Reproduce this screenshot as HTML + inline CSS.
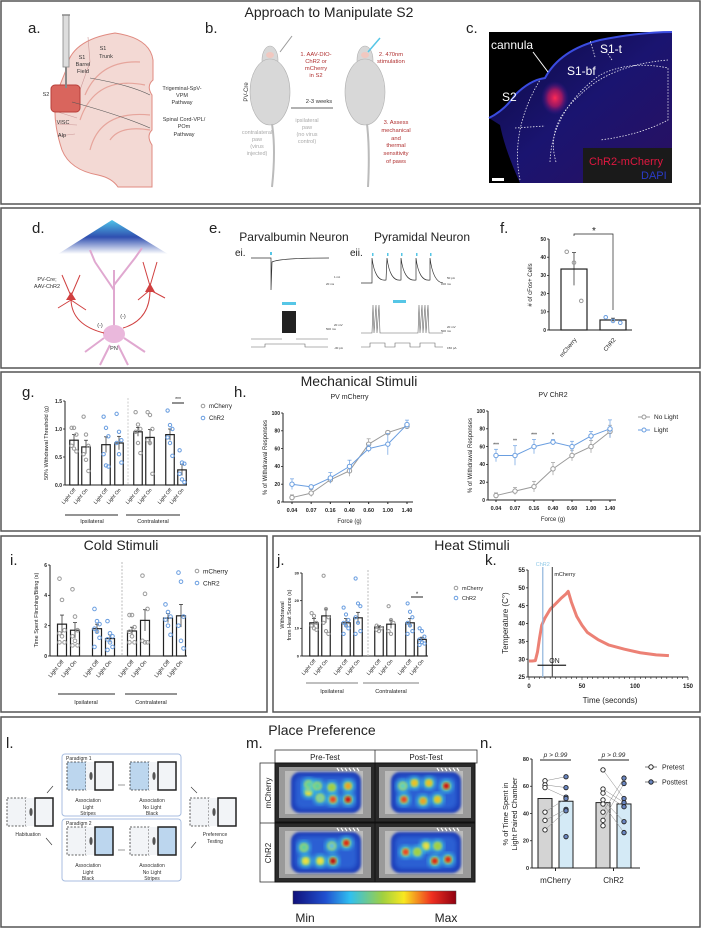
<!DOCTYPE html>
<html><head><meta charset="utf-8"><style>
html,body{margin:0;padding:0;background:#fff;}
svg{display:block;font-family:"Liberation Sans",sans-serif;}
</style></head><body>
<svg id="fig" width="701" height="928" viewBox="0 0 701 928" xmlns="http://www.w3.org/2000/svg">
<defs>
<radialGradient id="redglow" cx="50%" cy="50%" r="50%"><stop offset="0" stop-color="#ff2a55"/><stop offset="0.5" stop-color="#d01a60" stop-opacity="0.7"/><stop offset="1" stop-color="#3a1a9a" stop-opacity="0"/></radialGradient>
<linearGradient id="cone" x1="0" y1="0" x2="0" y2="1"><stop offset="0" stop-color="#4fc3e8"/><stop offset="0.5" stop-color="#2f4fb0"/><stop offset="1" stop-color="#ffffff"/></linearGradient>
<linearGradient id="cbar" x1="0" x2="1"><stop offset="0" stop-color="#10107a"/><stop offset="0.2" stop-color="#2050d0"/><stop offset="0.35" stop-color="#30c0f0"/><stop offset="0.55" stop-color="#a0d040"/><stop offset="0.68" stop-color="#f8e820"/><stop offset="0.85" stop-color="#f03020"/><stop offset="1" stop-color="#900010"/></linearGradient>
<linearGradient id="cbg" x1="0" y1="0" x2="1" y2="1"><stop offset="0" stop-color="#0c0a40"/><stop offset="0.5" stop-color="#1a1470"/><stop offset="1" stop-color="#2a1060"/></linearGradient>
<filter id="blur2"><feGaussianBlur stdDeviation="2"/></filter>
<filter id="blur1"><feGaussianBlur stdDeviation="1.2"/></filter>
</defs>
<rect width="701" height="928" fill="#fff"/>

<g fill="none" stroke="#555" stroke-width="1.5">
<rect x="1" y="1" width="699" height="203"/>
<rect x="1" y="208" width="699" height="160"/>
<rect x="1" y="372" width="699" height="159"/>
<rect x="1" y="536" width="266" height="176"/>
<rect x="273" y="536" width="427" height="176"/>
<rect x="1" y="717" width="699" height="210"/>
</g>

<g font-size="14" fill="#222" text-anchor="middle">
<text x="329" y="17">Approach to Manipulate S2</text>
<text x="359" y="386">Mechanical Stimuli</text>
<text x="121" y="550">Cold Stimuli</text>
<text x="472" y="550">Heat Stimuli</text>
<text x="322" y="735">Place Preference</text>
</g>
<g font-size="15" fill="#222">
<text x="28" y="33">a.</text>
<text x="205" y="33">b.</text>
<text x="466" y="33">c.</text>
<text x="32" y="233">d.</text>
<text x="209" y="233">e.</text>
<text x="500" y="233">f.</text>
<text x="22" y="397">g.</text>
<text x="234" y="397">h.</text>
<text x="10" y="565">i.</text>
<text x="277" y="565">j.</text>
<text x="485" y="565">k.</text>
<text x="6" y="748">l.</text>
<text x="246" y="748">m.</text>
<text x="480" y="748">n.</text>
</g>

<g>
<path d="M66,70 Q70,40 115,33 Q150,38 153,60 L153,80 Q146,86 152,95 L152,130 Q146,136 152,145 L152,187 L118,187 Q112,178 98,175 Q70,170 62,150 Q52,120 56,95 Z" fill="#f3d9d4" stroke="#e08a80" stroke-width="1"/>
<path d="M85,95 Q100,60 140,62 M80,120 Q95,75 145,85 M90,150 Q100,110 150,115 M110,140 Q120,125 150,130" fill="none" stroke="#e6a59c" stroke-width="1.2"/>
<path d="M58,112 L77,118 M56,124 L77,125 M58,136 L75,134 M88,37 L90,62 L80,90" fill="none" stroke="#c99" stroke-width="0.6"/>
<rect x="51" y="85" width="29" height="27" rx="4" fill="#d9655d" stroke="#b8403a"/>
<line x1="66" y1="15" x2="66" y2="88" stroke="#888" stroke-width="2"/>
<rect x="63" y="15" width="6" height="52" fill="#ddd" stroke="#888" stroke-width="0.8"/>
<line x1="62" y1="15" x2="70" y2="15" stroke="#888" stroke-width="1.5"/>
<path d="M90,78 Q130,85 150,95" fill="none" stroke="#555" stroke-width="0.6"/>
<path d="M72,102 Q120,115 150,128" fill="none" stroke="#555" stroke-width="0.6"/>
<g font-size="5.5" fill="#333" text-anchor="middle">
<text x="103" y="50">S1</text><text x="106" y="58">Trunk</text>
<text x="82" y="59">S1</text><text x="83" y="66">Barrel</text><text x="83" y="73">Field</text>
<text x="46" y="96">S2</text><text x="63" y="124">VISC</text><text x="62" y="137">AIp</text>
<text x="182" y="90">Trigeminal-SpV-</text><text x="182" y="97">VPM</text><text x="182" y="104">Pathway</text>
<text x="184" y="121">Spinal Cord-VPL/</text><text x="184" y="128">POm</text><text x="184" y="136">Pathway</text>
</g></g>

<g>
<g fill="#d8d8d8" stroke="#b0b0b0" stroke-width="0.6">
<ellipse cx="270" cy="60" rx="8" ry="14"/><ellipse cx="270" cy="92" rx="20" ry="33"/>
<ellipse cx="365" cy="60" rx="8" ry="14"/><ellipse cx="365" cy="92" rx="20" ry="33"/>
</g>
<path d="M272,124 Q276,150 272,187 M367,124 Q370,150 368,187" fill="none" stroke="#bbb" stroke-width="2"/>
<ellipse cx="270" cy="55" rx="4" ry="3" fill="#f1c8c0"/><ellipse cx="365" cy="55" rx="4" ry="3" fill="#f1c8c0"/>
<line x1="280" y1="52" x2="292" y2="36" stroke="#999" stroke-width="1"/>
<line x1="368" y1="52" x2="380" y2="38" stroke="#56c6e6" stroke-width="1.5"/>
<line x1="291" y1="108" x2="333" y2="108" stroke="#333" stroke-width="0.7"/>
<g font-size="5.8" fill="#b03030" text-anchor="middle">
<text x="316" y="56">1.  AAV-DIO-</text><text x="316" y="63">ChR2 or</text><text x="316" y="70">mCherry</text><text x="316" y="77">in S2</text>
<text x="391" y="56">2. 470nm</text><text x="391" y="63">stimulation</text>
<text x="396" y="124">3. Assess</text><text x="396" y="132">mechanical</text><text x="396" y="140">and</text><text x="396" y="147">thermal</text><text x="396" y="155">sensitivity</text><text x="396" y="163">of paws</text>
</g>
<g font-size="5.5" fill="#aaa" text-anchor="middle">
<text x="257" y="134">contralateral</text><text x="257" y="141">paw</text><text x="257" y="148">(virus</text><text x="257" y="155">injected)</text>
<text x="307" y="122">ipsilateral</text><text x="307" y="129">paw</text><text x="307" y="136">(no virus</text><text x="307" y="143">control)</text>
</g>
<text x="319" y="103" font-size="5.8" fill="#333" text-anchor="middle">2-3 weeks</text>
<text x="248" y="92" font-size="6" fill="#333" transform="rotate(-90 248 92)" text-anchor="middle">PV-Cre</text>
</g>

<g>
<rect x="489" y="32" width="183" height="151" fill="#000"/>
<path d="M489,118 Q505,110 515,95 Q530,80 545,78 Q560,50 600,40 Q640,32 672,32 L672,183 L520,183 Q505,150 500,125 Z" fill="url(#cbg)"/>
<path d="M489,118 Q505,110 515,95 Q530,80 545,78 Q560,50 600,40 Q640,32 672,32" fill="none" stroke="#3a4ce0" stroke-width="2"/>
<ellipse cx="555" cy="98" rx="14" ry="17" fill="url(#redglow)"/>
<g fill="none" stroke="#fff" stroke-width="0.8" stroke-dasharray="1.5,1.5" opacity="0.9">
<path d="M520,180 Q510,130 540,80"/><path d="M556,162 Q545,125 580,95 Q610,65 668,60"/>
<path d="M550,162 Q552,110 600,75 Q630,60 668,68 L668,120 Q640,135 600,140"/>
<path d="M595,57 L590,40"/><path d="M612,60 L604,48"/><path d="M515,128 L545,126"/>
</g>
<rect x="583" y="148" width="89" height="35" fill="#1a1a1a"/>
<rect x="492" y="178" width="12" height="3" fill="#fff"/>
<line x1="533" y1="52" x2="548" y2="72" stroke="#fff" stroke-width="1"/>
<g fill="#fff" font-size="12">
<text x="491" y="49">cannula</text><text x="600" y="53">S1-t</text><text x="567" y="75">S1-bf</text><text x="502" y="101">S2</text>
</g>
<text x="589" y="165" font-size="11" fill="#e01840">ChR2-mCherry</text>
<text x="641" y="179" font-size="11" fill="#2a3cc8">DAPI</text>
</g>

<g>
<polygon points="112,220 58,254 168,254" fill="url(#cone)"/>
<g fill="none" stroke="#e0a8d0" stroke-width="2">
<path d="M114,330 L114,270 M114,290 L95,262 M114,285 L135,258 M95,262 L90,250 M135,258 L142,248"/>
<path d="M104,338 L85,352 M124,338 L145,352 M110,345 L100,365 M118,345 L128,365"/>
</g>
<ellipse cx="114" cy="334" rx="11" ry="9" fill="#eab8dc"/>
<g fill="none" stroke="#d04040" stroke-width="1">
<path d="M71,300 Q72,325 104,333 M71,296 L62,275 M71,296 L80,275 M71,300 L58,308 M71,300 L86,310"/>
<path d="M150,290 Q150,320 123,328 M150,286 L143,262 M150,286 L157,262 M150,290 L165,298 M150,290 L138,300"/>
</g>
<polygon points="71,292 76,300 66,300" fill="#d04040"/><polygon points="150,283 155,292 145,292" fill="#d04040"/>
<g font-size="5.5" fill="#333" text-anchor="middle">
<text x="47" y="281">PV-Cre;</text><text x="47" y="288">AAV-ChR2</text>
<text x="100" y="327">(-)</text><text x="123" y="318">(-)</text><text x="114" y="350">PN</text>
</g></g>

<g>
<text x="294" y="241" font-size="12" fill="#222" text-anchor="middle">Parvalbumin Neuron</text>
<text x="422" y="241" font-size="12" fill="#222" text-anchor="middle">Pyramidal Neuron</text>
<text x="235" y="256" font-size="10" fill="#222">ei.</text>
<text x="350" y="256" font-size="10" fill="#222">eii.</text>
<rect x="270" y="252" width="2" height="3" fill="#56c6e6"/>
<path d="M251,258 L271,258 L271,290 L272,262 Q280,258 329,258" fill="none" stroke="#333" stroke-width="0.7"/>
<path d="M361,283 L372,283 L372,258 Q375,282 386,280 L387,258 Q390,282 401,280 L401,258 Q404,282 416,280 L416,258 Q419,282 430,280 L430,258 Q433,282 443,283" fill="none" stroke="#333" stroke-width="0.7"/>
<g fill="#56c6e6"><rect x="372" y="253" width="1.5" height="3"/><rect x="387" y="253" width="1.5" height="3"/><rect x="401" y="253" width="1.5" height="3"/><rect x="416" y="253" width="1.5" height="3"/><rect x="430" y="253" width="1.5" height="3"/>
<rect x="282" y="302" width="14" height="3"/><rect x="393" y="300" width="13" height="3"/></g>
<rect x="282" y="311" width="14" height="22" fill="#222"/>
<path d="M251,339 L282,339 M296,339 L328,339 M251,347 L265,347 L265,344 L305,344 L305,347 L328,347" fill="none" stroke="#666" stroke-width="0.6"/>
<path d="M361,333 L372,333 L373,305 L374,333 L376,305 L377,333 L379,305 L380,333 L382,333 L418,333 L419,305 L420,333 L422,305 L423,333 L425,305 L426,333 L428,305 L429,333 L443,333 M361,347 L370,347 L370,343 L385,343 L385,347 L395,347 L395,343 L410,343 L410,347 L420,347 L420,343 L435,343 L435,347 L443,347" fill="none" stroke="#666" stroke-width="0.6"/>
<g font-size="3" fill="#333"><text x="334" y="278">1 nA</text><text x="326" y="285">20 ms</text><text x="447" y="279">50 pA</text><text x="441" y="285">100 ms</text>
<text x="334" y="326">20 mV</text><text x="326" y="330">500 ms</text><text x="334" y="349">-30 pA</text><text x="447" y="328">20 mV</text><text x="441" y="332">500 ms</text><text x="447" y="349">150 pA</text></g>
</g>

<g id="chart-f"></g>
<g id="chart-g"></g>
<g id="chart-h1"></g>
<g id="chart-h2"></g>
<g id="chart-i"></g>
<g id="chart-j"></g>
<g id="chart-k"></g>
<g id="chart-n"></g>

<g font-size="5" fill="#333">
<rect x="62" y="754" width="119" height="62" rx="3" fill="none" stroke="#a8bde0"/>
<rect x="62" y="819" width="119" height="62" rx="3" fill="none" stroke="#a8bde0"/>
<text x="66" y="760">Paradigm 1</text><text x="66" y="825">Paradigm 2</text>
<g id="chambers"></g>
<g text-anchor="middle">
<text x="88" y="802">Association</text><text x="88" y="809">Light</text><text x="88" y="815">Stripes</text>
<text x="152" y="802">Association</text><text x="152" y="809">No Light</text><text x="152" y="815">Black</text>
<text x="88" y="867">Association</text><text x="88" y="874">Light</text><text x="88" y="880">Black</text>
<text x="152" y="867">Association</text><text x="152" y="874">No Light</text><text x="152" y="880">Stripes</text>
<text x="28" y="836">Habituation</text><text x="215" y="836">Preference</text><text x="215" y="843">Testing</text>
</g>
<path d="M47,793 L53,786 M52,845 L46,838 M191,787 L197,793 M191,848 L196,842 M118,785 L125,785 M118,850 L125,850" stroke="#333" stroke-width="0.6"/>
</g>

<g>
<rect x="275" y="750" width="202" height="13" fill="#fff" stroke="#333" stroke-width="0.8"/>
<line x1="375" y1="750" x2="375" y2="763" stroke="#333" stroke-width="0.8"/>
<text x="325" y="760" font-size="8" text-anchor="middle" fill="#222">Pre-Test</text>
<text x="426" y="760" font-size="8" text-anchor="middle" fill="#222">Post-Test</text>
<rect x="260" y="763" width="15" height="119" fill="#fff" stroke="#333" stroke-width="0.8"/>
<line x1="260" y1="823" x2="275" y2="823" stroke="#333" stroke-width="0.8"/>
<text x="271" y="793" font-size="8" text-anchor="middle" fill="#222" transform="rotate(-90 271 793)">mCherry</text>
<text x="271" y="853" font-size="8" text-anchor="middle" fill="#222" transform="rotate(-90 271 853)">ChR2</text>
<g id="heatcells"></g>
<rect x="293" y="891" width="163" height="13" fill="url(#cbar)" stroke="#444" stroke-width="0.5"/>
<text x="305" y="922" font-size="12" text-anchor="middle" fill="#222">Min</text>
<text x="446" y="922" font-size="12" text-anchor="middle" fill="#222">Max</text>
</g>
</svg>
<script>
const fCats = ["mCherry", "ChR2"];
const fMeans = [33.5, 5.5];
const fErr = [9, 1];
const fDots = [[43, 37, 16], [7, 5, 4]];

const gMeans = [0.8, 0.68, 0.72, 0.75, 0.95, 0.85, 0.9, 0.27];
const gErr = [0.1, 0.12, 0.14, 0.12, 0.08, 0.14, 0.1, 0.1];
const gDots = [[1.02,1.02,0.9,0.7,0.65,0.6],[1.22,0.9,0.7,0.55,0.45,0.25],[1.22,1.02,0.87,0.55,0.35,0.33],[1.27,0.95,0.8,0.75,0.55,0.4],[1.3,1.08,1.0,0.95,0.75,0.57],[1.3,1.25,1.0,0.8,0.75,0.2],[1.33,1.07,1.0,0.85,0.75,0.52],[0.62,0.4,0.38,0.2,0.1,0.05]];
const gTicks = [0, 0.5, 1.0, 1.5];

const forceLabels = ["0.04","0.07","0.16","0.40","0.60","1.00","1.40"];
const h1NoLight = [5, 10, 25, 35, 65, 78, 85];
const h1NoLightErr = [3, 4, 3, 6, 6, 2, 2];
const h1Light = [20, 17, 27, 40, 60, 65, 87];
const h1LightErr = [6, 2, 6, 7, 4, 12, 5];
const h2NoLight = [5, 10, 15, 35, 50, 60, 77];
const h2NoLightErr = [3, 4, 6, 7, 6, 7, 7];
const h2Light = [50, 50, 60, 65, 60, 72, 80];
const h2LightErr = [7, 11, 8, 3, 6, 5, 10];
const h2Stars = ["***", "**", "***", "*", "", "", ""];
const pctTicks = [0, 20, 40, 60, 80, 100];

const iMeans = [2.1, 1.7, 1.8, 1.15, 1.65, 2.35, 2.5, 2.65];
const iErr = [0.6, 0.5, 0.3, 0.25, 0.25, 0.7, 0.3, 0.75];
const iDots = [[5.1,3.7,1.7,1.5,1.3,0.9,0.9],[4.4,2.6,1.7,1.3,1.0,0.7,0.7],[3.1,2.3,2.1,1.8,1.6,1.2,0.6],[2.3,1.5,1.3,1.1,0.9,0.6,0.4],[2.7,2.7,1.9,1.6,1.3,0.9,0.9],[5.3,4.1,3.1,1.0,0.9,0.9],[3.4,2.9,2.6,2.4,2.0,1.4],[5.5,4.9,2.6,2.0,1.0,0.5]];
const iTicks = [0, 2, 4, 6];

const jMeans = [12, 14.5, 12, 13.8, 10.5, 11.5, 12, 6];
const jErr = [1.5, 2.5, 1.5, 2, 0.5, 1.5, 1.5, 0.8];
const jDots = [[15.5,14.5,12,11,10,9.5],[29,17,14,12,9,8],[17.5,15,13,12,11,10,8],[28,19,18,14,12,9,8],[11,10.5,10,9.5,9],[18,13,12,9,8],[19,16,14,12,11,9,8],[10,9,7,6,5,4.5,4]];
const jTicks = [0, 10, 20, 30];

const kTime = [0, 3, 6, 8, 10, 12, 15, 20, 25, 30, 35, 37, 40, 45, 50, 55, 65, 75, 90, 105, 120, 132];
const kTemp = [29.5, 29.5, 29.6, 32, 36, 39.5, 41.5, 44, 45.5, 47, 48.3, 49, 46, 42, 39.5, 37.5, 35.5, 34, 32.8, 31.8, 31.2, 31];
const kTicksY = [25, 30, 35, 40, 45, 50, 55];
const kTicksX = [0, 50, 100, 150];
const kChR2Time = 13;
const kMcherryTime = 22;
const kOnStart = 8;
const kOnEnd = 35;

const nGroups = ["mCherry", "ChR2"];
const nPreMeans = [51, 48];
const nPostMeans = [49, 47];
const nPre = [[64, 61, 59, 41, 35, 28], [72, 58, 55, 50, 47, 41, 35, 31]];
const nPost = [[67, 59, 52, 51, 43, 42, 23], [66, 62, 51, 48, 45, 34, 26]];
const nTicks = [0, 20, 40, 60, 80];

const NS = "http://www.w3.org/2000/svg";
function el(parent, tag, attrs, txt) {
  const e = document.createElementNS(NS, tag);
  for (const k in attrs) e.setAttribute(k, attrs[k]);
  if (txt !== undefined) e.textContent = txt;
  parent.appendChild(e);
  return e;
}
function lin(d0, d1, r0, r1) { return v => r0 + (v - d0) * (r1 - r0) / (d1 - d0); }
const GREY = "#9a9a9a", BLUE = "#6a9ee0";

function yAxis(g, x, y, ticks, fmt, fs) {
  const a = el(g, "line", {x1: x, x2: x, y1: y(ticks[ticks.length-1]), y2: y(ticks[0]), stroke: "#222", "stroke-width": 1});
  
  
  ticks.forEach(t => {
    el(g, "line", {x1: x - 2, x2: x, y1: y(t), y2: y(t), stroke: "#222", "stroke-width": 0.8});
    const tx = el(g, "text", {x: x - 3, y: y(t) + fs * 0.35, "font-size": fs, "text-anchor": "end", "font-weight": "bold", fill: "#222"}, fmt(t));
    
    
  });
}
function rotLabel(g, x, y, txt, fs, ang) {
  const t = el(g, "text", {x: x, y: y, "font-size": fs, "text-anchor": "end", fill: "#222", transform: `rotate(${ang} ${x} ${y})`}, txt);
  
  
}
function barChart(g, xs, w, means, errs, dots, y, colors, dotR) {
  means.forEach((m, i) => {
    const b = el(g, "rect", {x: xs[i] - w/2, y: y(m), width: w, height: y(0) - y(m), fill: "#fff", stroke: "#222", "stroke-width": 1.2});
    
    
    el(g, "line", {x1: xs[i], x2: xs[i], y1: y(m + errs[i]), y2: y(m - errs[i]), stroke: "#222", "stroke-width": 0.7});
    el(g, "line", {x1: xs[i]-2, x2: xs[i]+2, y1: y(m + errs[i]), y2: y(m + errs[i]), stroke: "#222", "stroke-width": 0.7});
    dots[i].forEach((d, k) => {
      const c = el(g, "circle", {cx: xs[i] + ((k % 3) - 1) * (w * 0.28), cy: y(d), r: dotR, fill: "none", stroke: colors[i], "stroke-width": 1});
      
      
    });
  });
}
function legend(g, x, y, items, fs, gap) {
  items.forEach((it, i) => {
    el(g, "circle", {cx: x, cy: y + i * gap, r: 1.8, fill: "none", stroke: it[1], "stroke-width": 1});
    const t = el(g, "text", {x: x + 6, y: y + i * gap + fs * 0.35, "font-size": fs, fill: "#222"}, it[0]);
    
    
  });
}

(function(){
  const g = document.getElementById("chart-f");
  const y = lin(0, 50, 330, 239);
  yAxis(g, 549, y, [0,10,20,30,40,50], v => v, 5);
  el(g, "line", {x1: 549, x2: 632, y1: 330, y2: 330, stroke: "#222"});
  const xs = [574, 613];
  barChart(g, xs, 26, fMeans, fErr, fDots, y, [GREY, BLUE], 1.8);
  fCats.forEach((c, i) => rotLabel(g, xs[i] + 3, 340, c, 6, -50));
  el(g, "path", {d: "M574,236 L574,234 L613,234 L613,310", fill: "none", stroke: "#222", "stroke-width": 0.7});
  el(g, "text", {x: 594, y: 234, "font-size": 10, "text-anchor": "middle", fill: "#222"}, "*");
  el(g, "text", {x: 532, y: 285, "font-size": 6, "text-anchor": "middle", fill: "#222", transform: "rotate(-90 532 285)"}, "# of cFos+ Cells");
})();

(function(){
  const g = document.getElementById("chart-g");
  const y = lin(0, 1.5, 485, 401);
  yAxis(g, 65, y, gTicks, v => v.toFixed(1), 5);
  el(g, "line", {x1: 65, x2: 187, y1: 485, y2: 485, stroke: "#222"});
  const xs = [74, 86, 106, 119, 138, 150, 170, 182];
  const cols = [GREY, GREY, BLUE, BLUE, GREY, GREY, BLUE, BLUE];
  barChart(g, xs, 8.5, gMeans, gErr, gDots, y, cols, 1.7);
  el(g, "line", {x1: 128, x2: 128, y1: 398, y2: 485, stroke: "#ccc", "stroke-dasharray": "2,1.5"});
  xs.forEach((x, i) => rotLabel(g, x + 2, 490, i % 2 ? "Light On" : "Light Off", 5, -50));
  el(g, "line", {x1: 65, x2: 118, y1: 515, y2: 515, stroke: "#555", "stroke-width": 1.2});
  el(g, "line", {x1: 126, x2: 180, y1: 515, y2: 515, stroke: "#555", "stroke-width": 1.2});
  el(g, "text", {x: 92, y: 523, "font-size": 5.5, "text-anchor": "middle", fill: "#222"}, "Ipsilateral");
  el(g, "text", {x: 153, y: 523, "font-size": 5.5, "text-anchor": "middle", fill: "#222"}, "Contralateral");
  el(g, "line", {x1: 172, x2: 184, y1: 403, y2: 403, stroke: "#222"});
  el(g, "text", {x: 178, y: 401, "font-size": 5, "text-anchor": "middle", fill: "#222"}, "***");
  el(g, "text", {x: 48, y: 443, "font-size": 5.5, "text-anchor": "middle", fill: "#222", transform: "rotate(-90 48 443)"}, "50% Withdrawal Threshold (g)");
  legend(g, 203, 406, [["mCherry", GREY], ["ChR2", BLUE]], 6, 12);
})();

function lineChart(id, ax, y0, y100, x0, x1, grey, greyE, blue, blueE, title, tY, stars) {
  const g = document.getElementById(id);
  const y = lin(0, 100, y0, y100);
  const x = lin(0, forceLabels.length - 1, x0, x1);
  yAxis(g, ax, y, pctTicks, v => v, 5);
  el(g, "line", {x1: ax, x2: x1 + 6, y1: y0, y2: y0, stroke: "#222"});
  forceLabels.forEach((f, i) => {
    el(g, "line", {x1: x(i), x2: x(i), y1: y0, y2: y0 + 2, stroke: "#222"});
    const t = el(g, "text", {x: x(i), y: y0 + 10, "font-size": 5.5, "font-weight": "bold", "text-anchor": "middle", fill: "#222"}, f);
    
    
  });
  [[grey, greyE, GREY], [blue, blueE, BLUE]].forEach(s => {
    const p = el(g, "polyline", {points: s[0].map((v, i) => x(i) + "," + y(v)).join(" "), fill: "none", stroke: s[2], "stroke-width": 1});
    
    
    s[0].forEach((v, i) => {
      el(g, "line", {x1: x(i), x2: x(i), y1: y(v + s[1][i]), y2: y(v - s[1][i]), stroke: s[2], "stroke-width": 0.7});
      el(g, "line", {x1: x(i)-2, x2: x(i)+2, y1: y(v + s[1][i]), y2: y(v + s[1][i]), stroke: s[2], "stroke-width": 0.7});
      const c = el(g, "circle", {cx: x(i), cy: y(v), r: 2.2, fill: "#fff", stroke: s[2], "stroke-width": 1});
      
      
    });
  });
  if (stars) stars.forEach((s, i) => { if (s) el(g, "text", {x: x(i), y: y(blue[i] + blueE[i]) - 3, "font-size": 5, "text-anchor": "middle", fill: "#222"}, s); });
  el(g, "text", {x: (x0 + x1) / 2, y: tY, "font-size": 7, "text-anchor": "middle", fill: "#222"}, title);
  el(g, "text", {x: (x0 + x1) / 2, y: y0 + 21, "font-size": 6, "text-anchor": "middle", fill: "#222"}, "Force (g)");
  el(g, "text", {x: ax - 16, y: (y0 + y100) / 2, "font-size": 6, "text-anchor": "middle", fill: "#222", transform: `rotate(-90 ${ax - 16} ${(y0 + y100) / 2})`}, "% of Withdrawal Responses");
}
lineChart("chart-h1", 283, 502, 413, 292, 407, h1NoLight, h1NoLightErr, h1Light, h1LightErr, "PV mCherry", 399, null);
lineChart("chart-h2", 488, 500, 411, 496, 610, h2NoLight, h2NoLightErr, h2Light, h2LightErr, "PV ChR2", 397, h2Stars);
(function(){
  const g = document.getElementById("chart-h2");
  [["No Light", GREY, 417], ["Light", BLUE, 430]].forEach(l => {
    el(g, "line", {x1: 638, x2: 650, y1: l[2], y2: l[2], stroke: l[1]});
    el(g, "circle", {cx: 644, cy: l[2], r: 2, fill: "#fff", stroke: l[1]});
    const t = el(g, "text", {x: 654, y: l[2] + 2.2, "font-size": 6.5, fill: "#222"}, l[0]);
    
    
  });
})();

(function(){
  const g = document.getElementById("chart-i");
  const y = lin(0, 6, 656, 565);
  yAxis(g, 50, y, iTicks, v => v, 5);
  el(g, "line", {x1: 50, x2: 187, y1: 656, y2: 656, stroke: "#222"});
  const xs = [62, 75, 97, 110, 132, 145, 168, 181];
  const cols = [GREY, GREY, BLUE, BLUE, GREY, GREY, BLUE, BLUE];
  barChart(g, xs, 9, iMeans, iErr, iDots, y, cols, 1.8);
  el(g, "line", {x1: 122, x2: 122, y1: 562, y2: 656, stroke: "#bbb", "stroke-dasharray": "2,1.5"});
  xs.forEach((x, i) => rotLabel(g, x + 2, 662, i % 2 ? "Light On" : "Light Off", 5.5, -50));
  el(g, "line", {x1: 58, x2: 115, y1: 694, y2: 694, stroke: "#555", "stroke-width": 1.3});
  el(g, "line", {x1: 125, x2: 177, y1: 694, y2: 694, stroke: "#555", "stroke-width": 1.3});
  el(g, "text", {x: 86, y: 704, "font-size": 5.5, "text-anchor": "middle", fill: "#222"}, "Ipsilateral");
  el(g, "text", {x: 151, y: 704, "font-size": 5.5, "text-anchor": "middle", fill: "#222"}, "Contralateral");
  el(g, "text", {x: 38, y: 610, "font-size": 5.5, "text-anchor": "middle", fill: "#222", transform: "rotate(-90 38 610)"}, "Time Spent Flinching/Biting (s)");
  legend(g, 197, 571, [["mCherry", GREY], ["ChR2", BLUE]], 6.5, 12);
})();

(function(){
  const g = document.getElementById("chart-j");
  const y = lin(0, 30, 656, 573);
  yAxis(g, 302, y, jTicks, v => v, 4);
  el(g, "line", {x1: 302, x2: 428, y1: 656, y2: 656, stroke: "#222"});
  const xs = [314, 326, 346, 358, 379, 391, 410, 422];
  const cols = [GREY, GREY, BLUE, BLUE, GREY, GREY, BLUE, BLUE];
  barChart(g, xs, 8.5, jMeans, jErr, jDots, y, cols, 1.6);
  el(g, "line", {x1: 368, x2: 368, y1: 570, y2: 656, stroke: "#bbb", "stroke-dasharray": "2,1.5"});
  xs.forEach((x, i) => rotLabel(g, x + 2, 661, i % 2 ? "Light On" : "Light Off", 5, -50));
  el(g, "line", {x1: 306, x2: 358, y1: 683, y2: 683, stroke: "#555", "stroke-width": 0.8});
  el(g, "line", {x1: 363, x2: 419, y1: 683, y2: 683, stroke: "#555", "stroke-width": 0.8});
  el(g, "text", {x: 332, y: 693, "font-size": 5.5, "text-anchor": "middle", fill: "#222"}, "Ipsilateral");
  el(g, "text", {x: 391, y: 693, "font-size": 5.5, "text-anchor": "middle", fill: "#222"}, "Contralateral");
  el(g, "line", {x1: 411, x2: 423, y1: 597, y2: 597, stroke: "#222"});
  el(g, "text", {x: 417, y: 596, "font-size": 6, "text-anchor": "middle", fill: "#222"}, "*");
  el(g, "text", {x: 284, y: 615, "font-size": 5.5, "text-anchor": "middle", fill: "#222", transform: "rotate(-90 284 615)"}, "Withdrawal");
  el(g, "text", {x: 291, y: 615, "font-size": 5.5, "text-anchor": "middle", fill: "#222", transform: "rotate(-90 291 615)"}, "from Heat Source (s)");
  legend(g, 456, 588, [["mCherry", GREY], ["ChR2", BLUE]], 5.5, 10);
})();

(function(){
  const g = document.getElementById("chart-k");
  const y = lin(25, 55, 677, 570);
  const x = lin(0, 150, 529, 688);
  yAxis(g, 528, y, kTicksY, v => v, 6);
  el(g, "line", {x1: 528, x2: 688, y1: 677, y2: 677, stroke: "#222"});
  for (let t = 0; t <= 150; t += 5) el(g, "line", {x1: x(t), x2: x(t), y1: 677, y2: t % 50 ? 679 : 680, stroke: "#222", "stroke-width": 0.6});
  kTicksX.forEach(t => {
    const tx = el(g, "text", {x: x(t), y: 688, "font-size": 6, "font-weight": "bold", "text-anchor": "middle", fill: "#222"}, t);
    
    
  });
  const p = el(g, "polyline", {points: kTime.map((t, i) => x(t) + "," + y(kTemp[i])).join(" "), fill: "none", stroke: "#ec8175", "stroke-width": 3, "stroke-linejoin": "round"});
  
  
  el(g, "line", {x1: x(kChR2Time), x2: x(kChR2Time), y1: 567, y2: 677, stroke: "#8fb4dc", "stroke-width": 1.2});
  el(g, "line", {x1: x(kMcherryTime), x2: x(kMcherryTime), y1: 567, y2: 677, stroke: "#555", "stroke-width": 1.2});
  el(g, "line", {x1: x(kOnStart), x2: x(kOnEnd), y1: y(28.3), y2: y(28.3), stroke: "#222", "stroke-width": 1.2});
  el(g, "text", {x: x(kOnStart) + 17, y: y(28.3) - 2, "font-size": 7, fill: "#222", "text-anchor": "middle"}, "ON");
  el(g, "text", {x: x(kChR2Time), y: 566, "font-size": 5.5, fill: "#8fc9e8", "text-anchor": "middle"}, "ChR2");
  el(g, "text", {x: x(kMcherryTime) + 2, y: 576, "font-size": 5.5, fill: "#222"}, "mCherry");
  el(g, "text", {x: 610, y: 703, "font-size": 8, "text-anchor": "middle", fill: "#222"}, "Time (seconds)");
  el(g, "text", {x: 508, y: 623, "font-size": 8, "text-anchor": "middle", fill: "#222", transform: "rotate(-90 508 623)"}, "Temperature (C°)");
})();

(function(){
  const g = document.getElementById("chart-n");
  const y = lin(0, 80, 868, 759);
  yAxis(g, 532, y, nTicks, v => v, 5.5);
  el(g, "line", {x1: 532, x2: 640, y1: 868, y2: 868, stroke: "#222"});
  const preX = [545, 603], postX = [566, 624];
  nGroups.forEach((grp, gi) => {
    [[preX[gi], nPreMeans[gi], "#d4d4d4"], [postX[gi], nPostMeans[gi], "#d4eaf6"]].forEach(b => {
      const r = el(g, "rect", {x: b[0] - 7, y: y(b[1]), width: 14, height: 868 - y(b[1]), fill: b[2], stroke: "#222", "stroke-width": 1});
      
      
    });
    const m = Math.min(nPre[gi].length, nPost[gi].length);
    for (let k = 0; k < m; k++) el(g, "line", {x1: preX[gi], x2: postX[gi], y1: y(nPre[gi][k]), y2: y(nPost[gi][(k + gi * 2) % nPost[gi].length]), stroke: "#888", "stroke-width": 0.5});
    nPre[gi].forEach(v => { const c = el(g, "circle", {cx: preX[gi], cy: y(v), r: 2.2, fill: "#fff", stroke: "#222", "stroke-width": 0.9});   });
    nPost[gi].forEach(v => { const c = el(g, "circle", {cx: postX[gi], cy: y(v), r: 2.2, fill: "#6a86c0", stroke: "#222", "stroke-width": 0.9});   });
    const cx = (preX[gi] + postX[gi]) / 2;
    el(g, "line", {x1: cx, x2: cx, y1: 868, y2: 871, stroke: "#222"});
    const t = el(g, "text", {x: cx, y: 883, "font-size": 8, "text-anchor": "middle", fill: "#222"}, grp);
    
    
    el(g, "line", {x1: preX[gi] - 5, x2: postX[gi] + 5, y1: 760, y2: 760, stroke: "#222"});
    el(g, "text", {x: cx, y: 757, "font-size": 6.5, "font-style": "italic", "text-anchor": "middle", fill: "#222"}, "p > 0.99");
  });
  el(g, "text", {x: 508, y: 814, "font-size": 7.5, "text-anchor": "middle", fill: "#222", transform: "rotate(-90 508 814)"}, "% of Time Spent in");
  el(g, "text", {x: 517, y: 814, "font-size": 7.5, "text-anchor": "middle", fill: "#222", transform: "rotate(-90 517 814)"}, "Light Paired Chamber");
  [["Pretest", "#fff", 767], ["Posttest", "#6a86c0", 782]].forEach(l => {
    el(g, "line", {x1: 645, x2: 657, y1: l[2], y2: l[2], stroke: "#222", "stroke-width": 0.6});
    el(g, "circle", {cx: 651, cy: l[2], r: 2.2, fill: l[1], stroke: "#222"});
    const t = el(g, "text", {x: 662, y: l[2] + 2.5, "font-size": 7, fill: "#222"}, l[0]);
    
    
  });
})();

(function(){
  const g = document.getElementById("chambers");
  const ch = [[7,798,"#f2f4f7","#f2f4f7"],[67,762,"#bcd6ee","#f2f4f7"],[130,762,"#bcd6ee","#f2f4f7"],[67,827,"#f2f4f7","#bcd6ee"],[130,827,"#f2f4f7","#bcd6ee"],[190,798,"#f2f4f7","#f2f4f7"]];
  ch.forEach(c => {
    el(g, "rect", {x: c[0], y: c[1], width: 19, height: 28, fill: c[2], stroke: "#333", "stroke-width": 0.8, "stroke-dasharray": "2,1.5"});
    el(g, "rect", {x: c[0] + 19, y: c[1], width: 9, height: 28, fill: "#f2f4f7"});
    el(g, "rect", {x: c[0] + 28, y: c[1], width: 18, height: 28, fill: c[3], stroke: "#222", "stroke-width": 1.5});
    el(g, "ellipse", {cx: c[0] + 24, cy: c[1] + 14, rx: 1.6, ry: 4, fill: "#555"});
  });
})();

(function(){
  const g = document.getElementById("heatcells");
  const cells = [[275,763],[375,763],[275,823],[375,823]];
  const blobs = [
    [[0.2,0.5,"#f0e040"],[0.2,0.25,"#60d0a0"],[0.35,0.3,"#60d0a0"],[0.6,0.35,"#a0d040"],[0.62,0.75,"#f04020"],[0.88,0.3,"#f0a020"],[0.88,0.75,"#d01010"],[0.4,0.7,"#80d0a0"]],
    [[0.3,0.2,"#f0c020"],[0.55,0.2,"#f0c020"],[0.85,0.3,"#d01010"],[0.12,0.75,"#f04020"],[0.45,0.8,"#f0a020"],[0.7,0.75,"#f0c020"],[0.1,0.3,"#60d0c0"]],
    [[0.12,0.35,"#60d0a0"],[0.15,0.8,"#f0e040"],[0.4,0.8,"#f0e040"],[0.62,0.8,"#c01010"],[0.85,0.2,"#e02010"],[0.6,0.3,"#60c0e0"]],
    [[0.15,0.5,"#f04020"],[0.5,0.3,"#f0e040"],[0.65,0.8,"#e02010"],[0.88,0.75,"#e02010"],[0.35,0.5,"#a0d040"],[0.7,0.3,"#a0d040"]]
  ];
  cells.forEach((c, i) => {
    el(g, "rect", {x: c[0], y: c[1], width: 100, height: 59, fill: "#2a2a2a", stroke: "#111"});
    el(g, "rect", {x: c[0] + 4, y: c[1] + 4, width: 92, height: 51, fill: "#9a9a9a"});
    el(g, "rect", {x: c[0] + 10, y: c[1] + 8, width: 78, height: 43, fill: "#bcbcbc"});
    el(g, "rect", {x: c[0] + 16, y: c[1] + 9, width: 70, height: 41, rx: 9, fill: "#1f3cb8", filter: "url(#blur1)"});
    el(g, "rect", {x: c[0] + 20, y: c[1] + 13, width: 62, height: 33, rx: 7, fill: "#2f66d8", opacity: 0.85, filter: "url(#blur2)"});
    blobs[i].forEach(b => {
      const bx = c[0] + 22 + b[0] * 58, by = c[1] + 14 + b[1] * 30;
      el(g, "circle", {cx: bx, cy: by, r: 7, fill: "#40c8e0", opacity: 0.75, filter: "url(#blur2)"});
      el(g, "circle", {cx: bx, cy: by, r: 4.5, fill: "#c8e040", opacity: 0.7, filter: "url(#blur1)"});
      el(g, "circle", {cx: bx, cy: by, r: 3, fill: b[2], filter: "url(#blur1)"});
    });
    for (let s = 0; s < 6; s++) el(g, "line", {x1: c[0] + 62 + s * 4, y1: c[1] + 5, x2: c[0] + 64 + s * 4, y2: c[1] + 8, stroke: "#fff", "stroke-width": 1.2});
  });
})();
</script>
</body></html>
